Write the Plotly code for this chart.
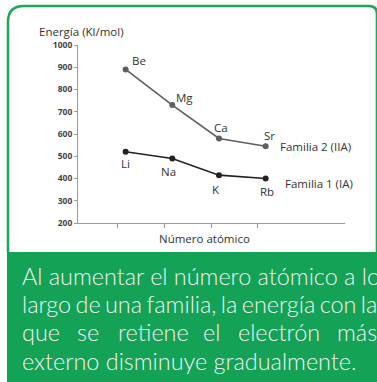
import plotly.graph_objects as go

# ---------------- data ----------------
fam2_symbols = ["Be", "Mg", "Ca", "Sr"]
fam2_energy = [890, 730, 580, 545]
fam1_symbols = ["Li", "Na", "K", "Rb"]
fam1_energy = [520, 490, 415, 400]
positions = [1, 2, 3, 4]
y_ticks = [200, 300, 400, 500, 600, 700, 800, 900, 1000]
series_names = ["Familia 2 (IIA)", "Familia 1 (IA)"]
y_title = "Energía (Kl/mol)"
x_title = "Número atómico"
caption_line1 = "Al aumentar el número atómico a lo"
caption_line2 = "largo de una familia, la energía con la"
caption_line3_words = ["que", "se", "retiene", "el", "electrón", "más"]
caption_line4 = "externo disminuye gradualmente."

# ---------------- layout geometry ----------------
W, H = 377, 382
L, R, T, B = 78, 32, 45, 159
PW, PH = W - L - R, H - T - B


def px(x):
    return (x - L) / PW


def py(y):
    return (H - B - y) / PH


GREEN = "#13a256"
LABEL_FONT = dict(family="Open Sans, Noto Sans, sans-serif", size=11.5, color="#333333")

fig = go.Figure()
fig.add_trace(go.Scatter(x=positions, y=fam2_energy, mode="lines+markers",
                         line=dict(color="#5e5e5e", width=1.6),
                         marker=dict(color="#5e5e5e", size=6), showlegend=False, hoverinfo="skip"))
fig.add_trace(go.Scatter(x=positions, y=fam1_energy, mode="lines+markers",
                         line=dict(color="#222222", width=1.6),
                         marker=dict(color="#222222", size=6), showlegend=False, hoverinfo="skip"))

annotations = []
# point labels (offsets in pixels)
fam2_off = [(4, 9, "left"), (2, 8, "left"), (2.5, 11, "center"), (3.5, 11, "center")]
fam1_off = [(0, -12, "center"), (-3.5, -13, "center"), (-2.5, -14, "center"), (1, -13, "center")]
for sym, xv, yv, (dx, dy, anc) in zip(fam2_symbols, positions, fam2_energy, fam2_off):
    annotations.append(dict(x=xv, y=yv, xref="x", yref="y", text=sym, showarrow=False,
                            xanchor=anc, yanchor="middle", xshift=dx, yshift=dy, font=LABEL_FONT))
for sym, xv, yv, (dx, dy, anc) in zip(fam1_symbols, positions, fam1_energy, fam1_off):
    annotations.append(dict(x=xv, y=yv, xref="x", yref="y", text=sym, showarrow=False,
                            xanchor=anc, yanchor="middle", xshift=dx, yshift=dy, font=LABEL_FONT))
# series names
annotations.append(dict(x=positions[-1], y=fam2_energy[-1], xref="x", yref="y", text=series_names[0],
                        showarrow=False, xanchor="left", yanchor="middle", xshift=12, yshift=0,
                        font=LABEL_FONT))
annotations.append(dict(x=positions[-1], y=fam1_energy[-1], xref="x", yref="y", text=series_names[1],
                        showarrow=False, xanchor="left", yanchor="middle", xshift=17, yshift=-5,
                        font=LABEL_FONT))
# axis titles
annotations.append(dict(x=px(37), y=py(31), xref="paper", yref="paper", text=y_title, showarrow=False,
                        xanchor="left", yanchor="middle", font=LABEL_FONT))
annotations.append(dict(x=px(204), y=py(238), xref="paper", yref="paper", text=x_title, showarrow=False,
                        xanchor="center", yanchor="middle", font=LABEL_FONT))

# caption
CAP_FONT = dict(family="Lato, sans-serif", size=23.4, color="#f2f2f2", weight=300)
line_y = [276, 304, 332, 361]
annotations.append(dict(x=px(20), y=py(line_y[0]), xref="paper", yref="paper", text=caption_line1,
                        showarrow=False, xanchor="left", yanchor="middle", font=CAP_FONT))
annotations.append(dict(x=px(20), y=py(line_y[1]), xref="paper", yref="paper",
                        text=caption_line2.replace(" ", "\u2009\u200a"),
                        showarrow=False, xanchor="left", yanchor="middle", font=CAP_FONT))
line3_x = [20, 75, 116, 201, 236, 335]
for w, xw in zip(caption_line3_words, line3_x):
    annotations.append(dict(x=px(xw), y=py(line_y[2]), xref="paper", yref="paper", text=w,
                            showarrow=False, xanchor="left", yanchor="middle", font=CAP_FONT))
annotations.append(dict(x=px(20), y=py(line_y[3]), xref="paper", yref="paper", text=caption_line4,
                        showarrow=False, xanchor="left", yanchor="middle", font=CAP_FONT))

# shapes: rounded border and green caption box
x0, y0, x1, y1, r = px(8), py(6), px(377), py(252), 16
rx, ry = r / PW, r / PH
rx2, ry2 = 8 / PW, 8 / PH
border = (f"M {x0},{y1} L {x0},{y0 - ry} Q {x0},{y0} {x0 + rx},{y0} "
          f"L {x1 - rx2},{y0} Q {x1},{y0} {x1},{y0 - ry2} L {x1},{y1}")
shapes = [
    dict(type="path", xref="paper", yref="paper", path=border,
         line=dict(color="#1aa85a", width=2.6), layer="below"),
    dict(type="rect", xref="paper", yref="paper", x0=px(7), x1=px(380), y0=py(252), y1=py(382),
         fillcolor=GREEN, line=dict(width=0), layer="below"),
]

fig.update_layout(
    width=W, height=H, margin=dict(l=L, r=R, t=T, b=B),
    paper_bgcolor="white", plot_bgcolor="white",
    annotations=annotations, shapes=shapes, showlegend=False,
    xaxis=dict(range=[-0.02, 5.7], showgrid=False, zeroline=False, showline=True,
               linecolor="#9a9a9a", linewidth=1, ticks="outside", ticklen=4, tickcolor="#9a9a9a",
               tickvals=[p - 0.17 for p in positions], ticktext=["" for _ in positions]),
    yaxis=dict(range=[200, 1000], showgrid=False, zeroline=False, showline=True,
               linecolor="#9a9a9a", linewidth=1, ticks="outside", ticklen=3, tickcolor="#9a9a9a",
               tickvals=y_ticks, ticktext=[f"<b>{v}</b>" for v in y_ticks],
               tickfont=dict(family="Open Sans, sans-serif", size=8.5, color="#444444")),
)

fig.write_html("out.html", config={"displayModeBar": False},
               post_script="document.body.style.margin='0';document.body.style.overflow='hidden';")
